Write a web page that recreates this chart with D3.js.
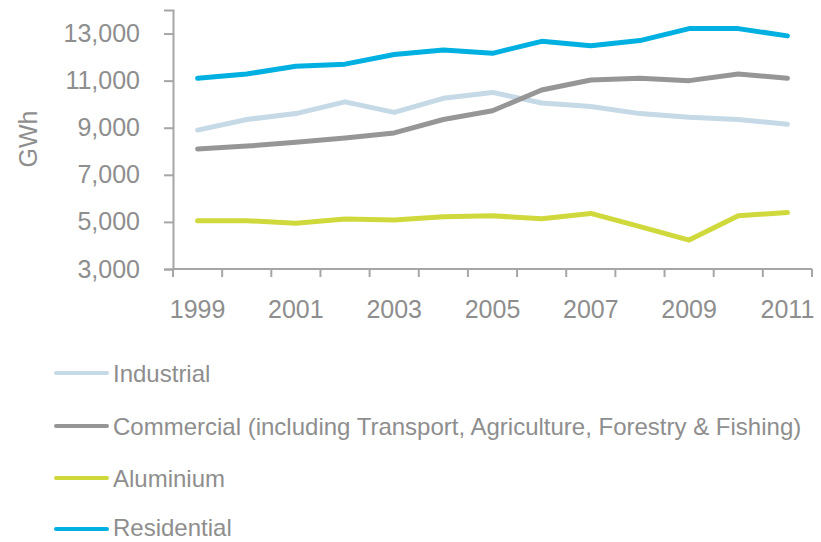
<!DOCTYPE html>
<html><head><meta charset="utf-8">
<script src="https://cdn.jsdelivr.net/npm/d3@7"></script>
<style>
html,body{margin:0;padding:0;background:#fff;}
text{font-family:"Liberation Sans",Arial,sans-serif;fill:#8e8e8e;}
</style></head>
<body><svg id="chart" width="821" height="542"></svg>
<script>
const years = ["1999","2000","2001","2002","2003","2004","2005","2006","2007","2008","2009","2010","2011"];
const yTicks = [3000,5000,7000,9000,11000,13000];
const seriesNames = ["Industrial","Commercial (including Transport, Agriculture, Forestry & Fishing)","Aluminium","Residential"];
const industrial  = [8900,9350,9600,10100,9650,10250,10500,10050,9900,9600,9450,9350,9150];
const commercial  = [8100,8220,8380,8560,8780,9350,9720,10600,11030,11100,11000,11280,11100];
const aluminium   = [5050,5050,4940,5120,5080,5220,5260,5130,5360,4800,4230,5260,5400];
const residential = [11100,11280,11610,11700,12110,12300,12160,12670,12480,12700,13210,13210,12900];
const colors = ["#c5d9e6","#969696","#d0d93c","#00b0e0"];
const seriesValues = [industrial, commercial, aluminium, residential];

const svg = d3.select("#chart");
const axisColor = "#a6a6a6";
const x = d3.scaleBand().domain(years).range([173, 812]);
const y = d3.scaleLinear().domain([3000, 14000]).range([269, 10]);

// Y axis
const yAxis = svg.append("g").attr("transform","translate(173,0)")
  .call(d3.axisLeft(y).tickValues(yTicks).tickSize(9).tickPadding(24).tickFormat(d3.format(",")));
yAxis.select(".domain").attr("stroke",axisColor).attr("stroke-width",2);
yAxis.selectAll(".tick line").attr("stroke",axisColor).attr("stroke-width",2);
yAxis.selectAll(".tick text").attr("font-size",25).attr("fill","#8e8e8e").style("font-family","Liberation Sans, Arial, sans-serif");

// X axis: ticks at band boundaries
const xAxisG = svg.append("g").attr("transform","translate(0,269)");
xAxisG.append("line").attr("x1",173).attr("x2",812).attr("y1",0).attr("y2",0)
  .attr("stroke",axisColor).attr("stroke-width",2);
const boundaries = years.map(d => x(d)).concat([x(years[years.length-1]) + x.bandwidth()]);
xAxisG.selectAll("line.tk").data(boundaries).enter().append("line").attr("class","tk")
  .attr("x1",d=>d).attr("x2",d=>d).attr("y1",0).attr("y2",8)
  .attr("stroke",axisColor).attr("stroke-width",2);
xAxisG.selectAll("text").data(years.filter((d,i)=>i%2===0)).enter().append("text")
  .attr("x",d=>x(d)+x.bandwidth()/2).attr("y",49).attr("text-anchor","middle")
  .attr("font-size",25).text(d=>d);

// Y axis title
svg.append("text").attr("transform","translate(37,139) rotate(-90)")
  .attr("text-anchor","middle").attr("font-size",25).text("GWh");

// Lines
const line = d3.line().x((d,i)=>x(years[i])+x.bandwidth()/2).y(d=>y(d));
seriesValues.forEach((vals,k)=>{
  svg.append("path").datum(vals).attr("d",line).attr("fill","none")
    .attr("stroke",colors[k]).attr("stroke-width",5)
    .attr("stroke-linecap","round").attr("stroke-linejoin","round");
});

// Legend
const legendY = [373, 426, 478, 529];
seriesNames.forEach((name,k)=>{
  const g = svg.append("g").attr("transform",`translate(0,${legendY[k]})`);
  g.append("line").attr("x1",56).attr("x2",107).attr("y1",0).attr("y2",0)
    .attr("stroke",colors[k]).attr("stroke-width",4).attr("stroke-linecap","round");
  g.append("text").attr("x",113).attr("y",k===3 ? 7 : 8.5).attr("font-size",24).text(name);
});
</script></body></html>
